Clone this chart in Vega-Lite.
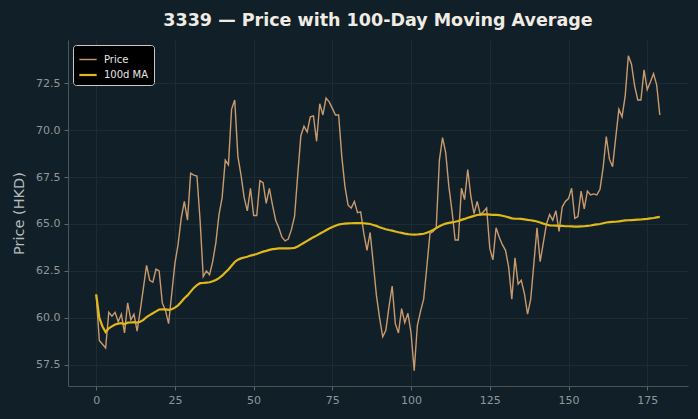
{
  "$schema": "https://vega.github.io/schema/vega-lite/v6.json",
  "autosize": "none",
  "width": 620,
  "height": 346,
  "padding": {"left": 68, "top": 40, "right": 10, "bottom": 33},
  "background": "#112028",
  "title": {
    "text": "3339 — Price with 100-Day Moving Average",
    "font": "DejaVu Sans",
    "fontSize": 17.5,
    "fontWeight": "bold",
    "color": "#f0ece4",
    "anchor": "middle",
    "offset": 11
  },
  "config": {
    "view": {"stroke": null, "fill": "#112028"},
    "font": "DejaVu Sans"
  },
  "data": {
    "values": [
      {"day":0,"Price":61.25,"100d MA":61.25},
      {"day":1,"Price":58.8,"100d MA":60.0},
      {"day":2,"Price":58.6,"100d MA":59.55},
      {"day":3,"Price":58.4,"100d MA":59.25},
      {"day":4,"Price":60.3,"100d MA":59.45},
      {"day":5,"Price":60.1,"100d MA":59.55},
      {"day":6,"Price":60.3,"100d MA":59.65},
      {"day":7,"Price":59.8,"100d MA":59.7},
      {"day":8,"Price":60.2,"100d MA":59.72},
      {"day":9,"Price":59.2,"100d MA":59.68},
      {"day":10,"Price":60.8,"100d MA":59.75},
      {"day":11,"Price":59.9,"100d MA":59.76},
      {"day":12,"Price":60.2,"100d MA":59.78},
      {"day":13,"Price":59.3,"100d MA":59.75},
      {"day":14,"Price":60.4,"100d MA":59.8},
      {"day":15,"Price":61.6,"100d MA":59.9},
      {"day":16,"Price":62.8,"100d MA":60.05},
      {"day":17,"Price":62.0,"100d MA":60.15},
      {"day":18,"Price":61.9,"100d MA":60.25},
      {"day":19,"Price":62.6,"100d MA":60.35},
      {"day":20,"Price":62.5,"100d MA":60.45},
      {"day":21,"Price":60.8,"100d MA":60.46},
      {"day":22,"Price":60.4,"100d MA":60.46},
      {"day":23,"Price":59.7,"100d MA":60.43},
      {"day":24,"Price":61.3,"100d MA":60.46},
      {"day":25,"Price":62.9,"100d MA":60.55},
      {"day":26,"Price":63.9,"100d MA":60.67},
      {"day":27,"Price":65.3,"100d MA":60.85},
      {"day":28,"Price":66.2,"100d MA":61.05},
      {"day":29,"Price":65.2,"100d MA":61.2},
      {"day":30,"Price":67.7,"100d MA":61.4},
      {"day":31,"Price":67.6,"100d MA":61.6},
      {"day":32,"Price":67.55,"100d MA":61.75},
      {"day":33,"Price":65.2,"100d MA":61.85},
      {"day":34,"Price":62.2,"100d MA":61.86},
      {"day":35,"Price":62.5,"100d MA":61.88},
      {"day":36,"Price":62.3,"100d MA":61.9},
      {"day":37,"Price":63.0,"100d MA":61.95},
      {"day":38,"Price":64.0,"100d MA":62.02},
      {"day":39,"Price":65.5,"100d MA":62.12},
      {"day":40,"Price":66.4,"100d MA":62.25},
      {"day":41,"Price":68.4,"100d MA":62.42},
      {"day":42,"Price":68.15,"100d MA":62.58},
      {"day":43,"Price":71.1,"100d MA":62.78},
      {"day":44,"Price":71.6,"100d MA":62.98},
      {"day":45,"Price":68.6,"100d MA":63.1},
      {"day":46,"Price":67.6,"100d MA":63.17},
      {"day":47,"Price":66.4,"100d MA":63.22},
      {"day":48,"Price":65.7,"100d MA":63.26},
      {"day":49,"Price":66.9,"100d MA":63.32},
      {"day":50,"Price":65.45,"100d MA":63.36},
      {"day":51,"Price":65.45,"100d MA":63.4},
      {"day":52,"Price":67.3,"100d MA":63.47},
      {"day":53,"Price":67.2,"100d MA":63.53},
      {"day":54,"Price":66.1,"100d MA":63.57},
      {"day":55,"Price":66.9,"100d MA":63.62},
      {"day":56,"Price":66.0,"100d MA":63.66},
      {"day":57,"Price":65.2,"100d MA":63.68},
      {"day":58,"Price":64.8,"100d MA":63.7},
      {"day":59,"Price":64.3,"100d MA":63.7},
      {"day":60,"Price":64.1,"100d MA":63.7},
      {"day":61,"Price":64.2,"100d MA":63.7},
      {"day":62,"Price":64.7,"100d MA":63.71},
      {"day":63,"Price":65.4,"100d MA":63.73},
      {"day":64,"Price":67.6,"100d MA":63.8},
      {"day":65,"Price":69.7,"100d MA":63.9},
      {"day":66,"Price":70.2,"100d MA":64.0},
      {"day":67,"Price":69.9,"100d MA":64.1},
      {"day":68,"Price":70.7,"100d MA":64.2},
      {"day":69,"Price":70.75,"100d MA":64.3},
      {"day":70,"Price":69.4,"100d MA":64.38},
      {"day":71,"Price":71.4,"100d MA":64.48},
      {"day":72,"Price":70.8,"100d MA":64.57},
      {"day":73,"Price":71.7,"100d MA":64.67},
      {"day":74,"Price":71.5,"100d MA":64.76},
      {"day":75,"Price":71.15,"100d MA":64.84},
      {"day":76,"Price":70.8,"100d MA":64.91},
      {"day":77,"Price":70.8,"100d MA":64.97},
      {"day":78,"Price":68.6,"100d MA":65.0},
      {"day":79,"Price":67.0,"100d MA":65.02},
      {"day":80,"Price":66.0,"100d MA":65.03},
      {"day":81,"Price":65.85,"100d MA":65.04},
      {"day":82,"Price":66.2,"100d MA":65.05},
      {"day":83,"Price":65.6,"100d MA":65.05},
      {"day":84,"Price":65.65,"100d MA":65.05},
      {"day":85,"Price":64.5,"100d MA":65.04},
      {"day":86,"Price":63.6,"100d MA":65.02},
      {"day":87,"Price":64.55,"100d MA":65.0},
      {"day":88,"Price":62.9,"100d MA":64.95},
      {"day":89,"Price":61.2,"100d MA":64.9},
      {"day":90,"Price":60.0,"100d MA":64.83},
      {"day":91,"Price":59.0,"100d MA":64.77},
      {"day":92,"Price":59.35,"100d MA":64.72},
      {"day":93,"Price":60.6,"100d MA":64.68},
      {"day":94,"Price":61.7,"100d MA":64.65},
      {"day":95,"Price":59.7,"100d MA":64.6},
      {"day":96,"Price":59.2,"100d MA":64.56},
      {"day":97,"Price":60.5,"100d MA":64.53},
      {"day":98,"Price":59.75,"100d MA":64.49},
      {"day":99,"Price":60.25,"100d MA":64.46},
      {"day":100,"Price":59.2,"100d MA":64.44},
      {"day":101,"Price":57.2,"100d MA":64.43},
      {"day":102,"Price":59.6,"100d MA":64.44},
      {"day":103,"Price":60.35,"100d MA":64.46},
      {"day":104,"Price":61.0,"100d MA":64.48},
      {"day":105,"Price":62.7,"100d MA":64.53},
      {"day":106,"Price":64.5,"100d MA":64.6},
      {"day":107,"Price":64.6,"100d MA":64.68},
      {"day":108,"Price":64.8,"100d MA":64.78},
      {"day":109,"Price":68.4,"100d MA":64.88},
      {"day":110,"Price":69.6,"100d MA":64.96},
      {"day":111,"Price":68.8,"100d MA":65.02},
      {"day":112,"Price":67.0,"100d MA":65.06},
      {"day":113,"Price":65.7,"100d MA":65.09},
      {"day":114,"Price":64.15,"100d MA":65.12},
      {"day":115,"Price":64.15,"100d MA":65.16},
      {"day":116,"Price":66.9,"100d MA":65.22},
      {"day":117,"Price":66.3,"100d MA":65.27},
      {"day":118,"Price":67.9,"100d MA":65.33},
      {"day":119,"Price":66.45,"100d MA":65.38},
      {"day":120,"Price":65.55,"100d MA":65.43},
      {"day":121,"Price":66.2,"100d MA":65.48},
      {"day":122,"Price":65.5,"100d MA":65.5},
      {"day":123,"Price":65.65,"100d MA":65.51},
      {"day":124,"Price":65.85,"100d MA":65.51},
      {"day":125,"Price":63.7,"100d MA":65.5},
      {"day":126,"Price":63.1,"100d MA":65.49},
      {"day":127,"Price":64.8,"100d MA":65.48},
      {"day":128,"Price":64.3,"100d MA":65.47},
      {"day":129,"Price":63.9,"100d MA":65.44},
      {"day":130,"Price":63.6,"100d MA":65.4},
      {"day":131,"Price":62.7,"100d MA":65.35},
      {"day":132,"Price":61.0,"100d MA":65.3},
      {"day":133,"Price":63.2,"100d MA":65.28},
      {"day":134,"Price":61.8,"100d MA":65.28},
      {"day":135,"Price":62.0,"100d MA":65.27},
      {"day":136,"Price":61.3,"100d MA":65.25},
      {"day":137,"Price":60.2,"100d MA":65.22},
      {"day":138,"Price":61.0,"100d MA":65.2},
      {"day":139,"Price":62.9,"100d MA":65.17},
      {"day":140,"Price":64.8,"100d MA":65.13},
      {"day":141,"Price":63.0,"100d MA":65.08},
      {"day":142,"Price":64.0,"100d MA":65.02},
      {"day":143,"Price":65.0,"100d MA":64.97},
      {"day":144,"Price":65.5,"100d MA":64.93},
      {"day":145,"Price":65.2,"100d MA":64.92},
      {"day":146,"Price":65.7,"100d MA":64.91},
      {"day":147,"Price":64.6,"100d MA":64.9},
      {"day":148,"Price":65.9,"100d MA":64.9},
      {"day":149,"Price":66.2,"100d MA":64.88},
      {"day":150,"Price":66.35,"100d MA":64.88},
      {"day":151,"Price":66.9,"100d MA":64.87},
      {"day":152,"Price":65.3,"100d MA":64.86},
      {"day":153,"Price":65.4,"100d MA":64.86},
      {"day":154,"Price":66.75,"100d MA":64.87},
      {"day":155,"Price":65.8,"100d MA":64.88},
      {"day":156,"Price":66.75,"100d MA":64.9},
      {"day":157,"Price":66.55,"100d MA":64.92},
      {"day":158,"Price":66.6,"100d MA":64.95},
      {"day":159,"Price":66.55,"100d MA":64.98},
      {"day":160,"Price":66.85,"100d MA":65.0},
      {"day":161,"Price":68.0,"100d MA":65.04},
      {"day":162,"Price":69.65,"100d MA":65.08},
      {"day":163,"Price":68.45,"100d MA":65.1},
      {"day":164,"Price":68.05,"100d MA":65.11},
      {"day":165,"Price":69.6,"100d MA":65.12},
      {"day":166,"Price":71.1,"100d MA":65.14},
      {"day":167,"Price":70.7,"100d MA":65.17},
      {"day":168,"Price":71.8,"100d MA":65.19},
      {"day":169,"Price":73.95,"100d MA":65.2},
      {"day":170,"Price":73.5,"100d MA":65.21},
      {"day":171,"Price":72.35,"100d MA":65.22},
      {"day":172,"Price":71.6,"100d MA":65.23},
      {"day":173,"Price":71.6,"100d MA":65.24},
      {"day":174,"Price":73.2,"100d MA":65.26},
      {"day":175,"Price":72.15,"100d MA":65.27},
      {"day":176,"Price":72.55,"100d MA":65.3},
      {"day":177,"Price":73.0,"100d MA":65.32},
      {"day":178,"Price":72.4,"100d MA":65.35},
      {"day":179,"Price":70.8,"100d MA":65.38}
    ]
  },
  "transform": [
    {"fold": ["Price", "100d MA"], "as": ["series", "value"]}
  ],
  "mark": {"type": "line", "clip": true},
  "encoding": {
    "x": {
      "field": "day",
      "type": "quantitative",
      "scale": {"domain": [-8.95, 187.95], "nice": false, "zero": false},
      "axis": {
        "values": [0, 25, 50, 75, 100, 125, 150, 175],
        "title": null,
        "labelColor": "#8f979b",
        "labelFontSize": 11,
        "labelPadding": 4,
        "tickColor": "#5d676c",
        "tickSize": 4,
        "domainColor": "#4a5459",
        "gridColor": "#1d2c33",
        "gridOpacity": 1,
        "grid": true
      }
    },
    "y": {
      "field": "value",
      "type": "quantitative",
      "scale": {"domain": [56.38, 74.79], "nice": false, "zero": false},
      "axis": {
        "values": [57.5, 60, 62.5, 65, 67.5, 70, 72.5],
        "format": ".1f",
        "title": "Price (HKD)",
        "titleColor": "#b4bbbe",
        "titleFontSize": 14.5,
        "titleFontWeight": "normal",
        "titlePadding": 9,
        "labelColor": "#8f979b",
        "labelFontSize": 11,
        "labelPadding": 4,
        "tickColor": "#5d676c",
        "tickSize": 4,
        "domainColor": "#4a5459",
        "gridColor": "#1d2c33",
        "gridOpacity": 1,
        "grid": true
      }
    },
    "color": {
      "field": "series",
      "type": "nominal",
      "sort": ["Price", "100d MA"],
      "scale": {"domain": ["Price", "100d MA"], "range": ["#c99a6e", "#e0b81a"]},
      "legend": {
        "title": null,
        "orient": "top-left",
        "offset": 5,
        "fillColor": "#000000",
        "strokeColor": "#c8c8c8",
        "cornerRadius": 3,
        "padding": 5,
        "symbolType": "stroke",
        "symbolSize": 300,
        "symbolStrokeWidth": 2,
        "labelColor": "#e6e6e6",
        "labelFontSize": 10,
        "labelFont": "DejaVu Sans",
        "labelOffset": 6,
        "rowPadding": 0
      }
    },
    "strokeWidth": {
      "field": "series",
      "type": "nominal",
      "sort": ["Price", "100d MA"],
      "scale": {"domain": ["Price", "100d MA"], "range": [1.4, 2.2]},
      "legend": null
    },
    "order": {"field": "day", "type": "quantitative"}
  }
}
